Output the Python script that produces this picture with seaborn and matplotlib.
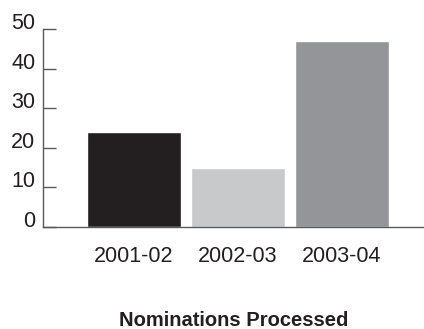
import matplotlib
matplotlib.use("Agg")
import matplotlib.pyplot as plt
import seaborn as sns
import pandas as pd

categories = ["2001-02", "2002-03", "2003-04"]
values = [24, 15, 47]
colors = ["#231f20", "#c8c9cb", "#939598"]
yticks = [0, 10, 20, 30, 40, 50]
title = "Nominations Processed"

sns.set_theme(style="white")
plt.rcParams['font.family'] = ['Liberation Sans', 'DejaVu Sans']

df = pd.DataFrame({"year": categories, "n": values})

fig = plt.figure(figsize=(4.24, 3.29), dpi=100)
ax = fig.add_axes([43/424, 1 - 227/329, 1 - 43/424, (227 - 29)/329])
sns.barplot(data=df, x="year", y="n", hue="year", palette=colors, order=categories,
            hue_order=categories, saturation=1, width=0.904, legend=False, ax=ax)
ax.set_ylim(0, 50)
ax.set_xlim(-0.875, 2.79)
ax.set_yticks(yticks)
ax.set_yticklabels([str(t) for t in yticks], va='baseline')
ax.set_xlabel("")
ax.set_ylabel("")
for s in ["top", "right"]:
    ax.spines[s].set_visible(False)
for s in ["left", "bottom"]:
    ax.spines[s].set_color("#58595b")
    ax.spines[s].set_linewidth(1.0)
ax.tick_params(axis='y', direction='in', length=9, width=1, color="#58595b",
               labelsize=15.5, labelcolor="#231f20", pad=5.5, left=True)
ax.tick_params(axis='x', length=0, labelsize=15.5, labelcolor="#231f20", pad=14)
fig.text((43 + 424) / 2 / 424, 2.5/329, title, ha='center', va='baseline',
         fontsize=14.5, fontweight='bold', color="#231f20")
fig.savefig("out.png", dpi=100)
